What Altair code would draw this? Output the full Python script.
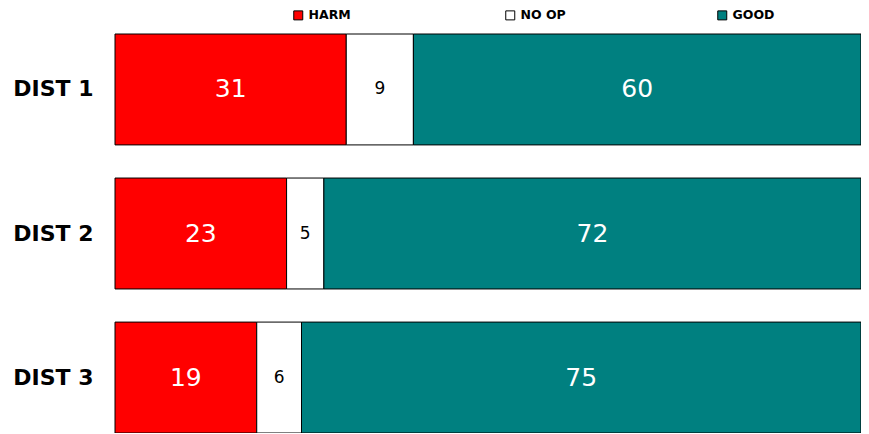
import altair as alt
import pandas as pd

dists = ["DIST 1", "DIST 2", "DIST 3"]
categories = ["HARM", "NO OP", "GOOD"]
harm = [31, 23, 19]
noop = [9, 5, 6]
good = [60, 72, 75]
colors = ["#FF0000", "#FFFFFF", "#008080"]

rows = []
for i, d in enumerate(dists):
    for j, (cat, vals) in enumerate(zip(categories, [harm, noop, good])):
        rows.append({"dist": d, "cat": cat, "order": j, "value": vals[i]})
df = pd.DataFrame(rows)

base = alt.Chart(df).transform_stack(
    stack="value", groupby=["dist"], as_=["x0", "x1"], sort=[alt.SortField("order")]
)

y_enc = alt.Y(
    "dist:N",
    sort=dists,
    scale=alt.Scale(paddingInner=0.23, paddingOuter=0),
    axis=alt.Axis(
        title=None, ticks=False, domain=False, labelPadding=22,
        labelFontSize=22, labelFontWeight="bold", labelFont="DejaVu Sans",
        labelColor="#000000",
    ),
)
x_scale = alt.Scale(domain=[0, 100], nice=False, zero=True)

bars = base.mark_bar(stroke="#000000", strokeWidth=1).encode(
    x=alt.X("x0:Q", scale=x_scale, axis=None),
    x2="x1:Q",
    y=y_enc,
    color=alt.Color(
        "cat:N",
        scale=alt.Scale(domain=categories, range=colors),
        sort=categories,
        legend=alt.Legend(
            title=None, orient="none", direction="horizontal",
            legendX=177, legendY=-25, padding=0,
            symbolType="square", symbolSize=81, symbolStrokeColor="#000000",
            symbolStrokeWidth=1, labelFont="DejaVu Sans", labelFontSize=12.5,
            labelFontWeight="bold", labelColor="#000000", labelOffset=4,
            gridAlign="all", columnPadding=149,
        ),
    ),
)

mid = base.transform_calculate(mid="(datum.x0 + datum.x1) / 2")

big_labels = mid.transform_filter(alt.datum.cat != "NO OP").mark_text(
    font="DejaVu Sans", baseline="middle", align="center", fontSize=25, color="#FFFFFF"
).encode(
    x=alt.X("mid:Q", scale=x_scale, axis=None),
    y=alt.Y("dist:N", sort=dists),
    text="value:Q",
)

small_labels = mid.transform_filter(alt.datum.cat == "NO OP").mark_text(
    font="DejaVu Sans", baseline="middle", align="center", fontSize=17, color="#000000"
).encode(
    x=alt.X("mid:Q", scale=x_scale, axis=None),
    y=alt.Y("dist:N", sort=dists),
    text="value:Q",
)

chart = alt.layer(bars, big_labels, small_labels).properties(
    width=746, height=399,
    autosize=alt.AutoSizeParams(type="none"),
    padding={"left": 107, "top": 26, "right": 0, "bottom": 0},
).configure_view(stroke=None)

chart.save("out.html", embed_options={"renderer": "svg", "actions": False})
